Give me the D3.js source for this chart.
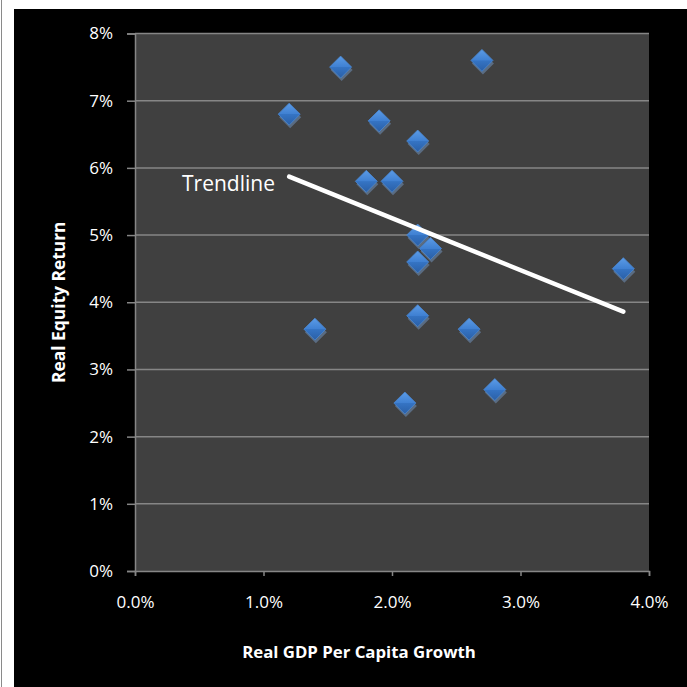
<!DOCTYPE html>
<html>
<head>
<meta charset="utf-8">
<script src="https://cdn.jsdelivr.net/npm/d3@7"></script>
<style>
  html, body { margin: 0; padding: 0; background: #ffffff; }
  svg { display: block; }
</style>
</head>
<body>
<svg id="chart" width="687" height="687"></svg>
<script>
// Real GDP per capita growth (%) vs real equity return (%)
const gdpGrowth    = [1.2, 1.6, 2.7, 1.9, 2.2, 1.8, 2.0, 2.2, 2.3, 2.2, 3.8, 1.4, 2.2, 2.6, 2.8, 2.1];
const equityReturn = [6.8, 7.5, 7.6, 6.7, 6.4, 5.8, 5.8, 5.0, 4.8, 4.6, 4.5, 3.6, 3.8, 3.6, 2.7, 2.5];
const xTicks = [0, 1, 2, 3, 4];
const yTicks = [0, 1, 2, 3, 4, 5, 6, 7, 8];

const svg = d3.select("#chart");
const W = 687, H = 687;
const font = "'Open Sans', 'DejaVu Sans', sans-serif";

// outer frame
svg.append("rect").attr("x", 0).attr("y", 0).attr("width", W).attr("height", H).attr("fill", "#ffffff");
svg.append("line").attr("x1", 1.5).attr("x2", 1.5).attr("y1", 0).attr("y2", H)
  .attr("stroke", "#8a8a8a").attr("stroke-width", 1);
svg.append("rect").attr("x", 14).attr("y", 9).attr("width", W - 14).attr("height", H - 9).attr("fill", "#000000");

const plot = { left: 135, top: 33.5, right: 649, bottom: 571 };
const x = d3.scaleLinear().domain([0, 4]).range([plot.left, plot.right]);
const y = d3.scaleLinear().domain([0, 8]).range([plot.bottom, plot.top]);

// plot area
svg.append("rect")
  .attr("x", plot.left).attr("y", plot.top)
  .attr("width", plot.right - plot.left).attr("height", plot.bottom - plot.top)
  .attr("fill", "#404040");

// horizontal gridlines
svg.append("g").selectAll("line").data(yTicks.filter(d => d > 0)).join("line")
  .attr("x1", plot.left).attr("x2", plot.right)
  .attr("y1", d => y(d)).attr("y2", d => y(d))
  .attr("stroke", "#868686").attr("stroke-width", 1.5);

// y axis
const yAxis = svg.append("g")
  .attr("transform", `translate(${plot.left},0)`)
  .call(d3.axisLeft(y).tickValues(yTicks).tickFormat(d => d + "%").tickSize(8).tickPadding(14));
yAxis.select(".domain").attr("stroke", "#868686").attr("stroke-width", 1.5);
yAxis.selectAll(".tick line").attr("stroke", "#868686").attr("stroke-width", 1.5);
yAxis.selectAll(".tick text").attr("fill", "#ffffff").attr("font-family", font).attr("font-size", 17);

// x axis
const xAxis = svg.append("g")
  .attr("transform", `translate(0,${plot.bottom})`)
  .call(d3.axisBottom(x).tickValues(xTicks).tickFormat(d => d.toFixed(1) + "%").tickSize(5).tickPadding(20));
xAxis.select(".domain").attr("stroke", "#868686").attr("stroke-width", 1.5);
xAxis.selectAll(".tick line").attr("stroke", "#868686").attr("stroke-width", 1.5);
xAxis.selectAll(".tick text").attr("fill", "#ffffff").attr("font-family", font).attr("font-size", 17);

// axis titles
svg.append("text")
  .attr("x", 359).attr("y", 658)
  .attr("text-anchor", "middle")
  .attr("fill", "#ffffff").attr("font-family", font).attr("font-weight", "bold").attr("font-size", 16.8)
  .text("Real GDP Per Capita Growth");
svg.append("text")
  .attr("transform", `translate(65,${(plot.top + plot.bottom) / 2}) rotate(-90)`)
  .attr("text-anchor", "middle")
  .attr("fill", "#ffffff").attr("font-family", font).attr("font-weight", "bold").attr("font-size", 17.4)
  .text("Real Equity Return");

// diamond markers with a bevelled look
const defs = svg.append("defs");
const grad = defs.append("linearGradient").attr("id", "diamondFill")
  .attr("x1", 0).attr("y1", 0).attr("x2", 0).attr("y2", 1);
grad.append("stop").attr("offset", "0%").attr("stop-color", "#5b9be6");
grad.append("stop").attr("offset", "50%").attr("stop-color", "#3f80d2");
grad.append("stop").attr("offset", "51%").attr("stop-color", "#3574c4");
grad.append("stop").attr("offset", "100%").attr("stop-color", "#2a5fa6");

const r = 11;
const diamond = `M0,${-r} L${r},0 L0,${r} L${-r},0 Z`;
const points = gdpGrowth.map((g, i) => ({ g, e: equityReturn[i] }));

const marks = svg.append("g").selectAll("g").data(points).join("g")
  .attr("transform", d => `translate(${x(d.g)},${y(d.e)})`);
marks.append("path").attr("d", diamond).attr("transform", "translate(1,3)")
  .attr("fill", "#6f8fb8").attr("opacity", 0.55);
marks.append("path").attr("d", diamond)
  .attr("fill", "url(#diamondFill)").attr("stroke", "#4a86cf").attr("stroke-width", 0.8);

// least-squares trendline across the range of the data
const mx = d3.mean(gdpGrowth), my = d3.mean(equityReturn);
const sxy = d3.sum(gdpGrowth, (g, i) => (g - mx) * (equityReturn[i] - my));
const sxx = d3.sum(gdpGrowth, g => (g - mx) * (g - mx));
const slope = sxy / sxx, intercept = my - slope * mx;
const [xMin, xMax] = d3.extent(gdpGrowth);
const trend = [[xMin, intercept + slope * xMin], [xMax, intercept + slope * xMax]];

svg.append("path")
  .attr("d", d3.line().x(d => x(d[0])).y(d => y(d[1]))(trend))
  .attr("stroke", "#ffffff").attr("stroke-width", 4.5).attr("stroke-linecap", "round").attr("fill", "none");

svg.append("text")
  .attr("x", 182).attr("y", 191)
  .attr("fill", "#ffffff").attr("font-family", font).attr("font-size", 21)
  .text("Trendline");
</script>
</body>
</html>
